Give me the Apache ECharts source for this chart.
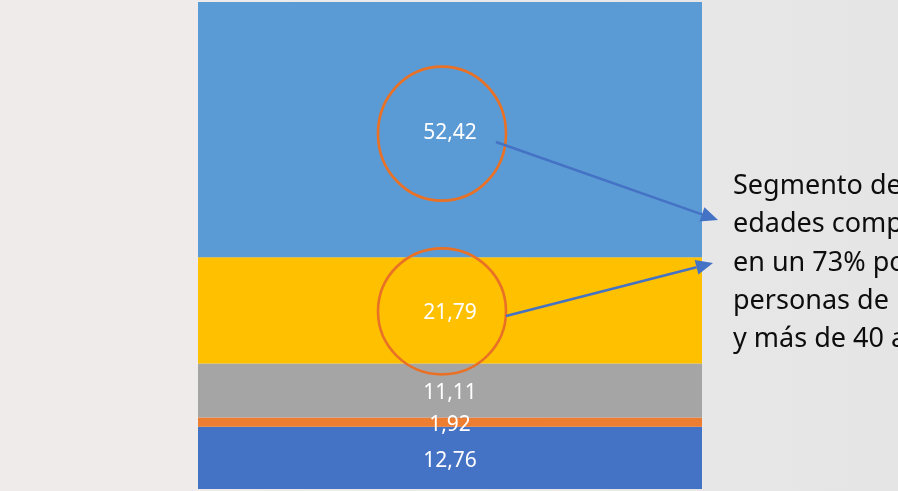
<!DOCTYPE html>
<html>
<head>
<meta charset="utf-8">
<script src="https://cdn.jsdelivr.net/npm/echarts@6/dist/echarts.min.js"></script>
<style>
html,body{margin:0;padding:0;}
#c{width:898px;height:491px;}
</style>
</head>
<body>
<div id="c"></div>
<script>
// Data (bottom to top)
const categories = ['Total'];
const seriesNames = ['S1', 'S2', 'S3', 'S4', 'S5'];
const seriesValues = [12.76, 1.92, 11.11, 21.79, 52.42];
const seriesColors = ['#4472C4', '#ED7D31', '#A5A5A5', '#FFC000', '#5B9BD5'];
const noteLines = ['Segmento de', 'edades comprendidas', 'en un 73% por', 'personas de', 'y más de 40 años'];

const chart = echarts.init(document.getElementById('c'));

const series = seriesValues.map((v, i) => ({
  name: seriesNames[i],
  type: 'bar',
  stack: 'total',
  barWidth: '100%',
  data: [v],
  itemStyle: { color: seriesColors[i] },
  label: {
    show: true,
    position: 'inside',
    offset: [0, 3],
    color: '#ffffff',
    fontFamily: 'Noto Sans',
    fontSize: 21,
    formatter: p => p.value.toFixed(2).replace('.', ',')
  },
  emphasis: { disabled: true }
}));

chart.setOption({
  animation: false,
  backgroundColor: {
    type: 'linear', x: 0, y: 0, x2: 1, y2: 0,
    colorStops: [
      { offset: 0, color: '#efebea' },
      { offset: 0.22, color: '#eeebea' },
      { offset: 0.8, color: '#e7e7e7' },
      { offset: 1, color: '#e5e5e5' }
    ]
  },
  grid: { left: 198, right: 196, top: 2, bottom: 2 },
  xAxis: { type: 'category', data: categories, show: false },
  yAxis: { type: 'value', min: 0, max: 100, show: false },
  series: series
});

// Annotations: circles around two labels, arrows to note text
function cumMid(idx) {
  let s = 0;
  for (let i = 0; i < idx; i++) s += seriesValues[i];
  return s + seriesValues[idx] / 2;
}
const pTop = chart.convertToPixel({ gridIndex: 0 }, [0, cumMid(4)]);
const pYel = chart.convertToPixel({ gridIndex: 0 }, [0, cumMid(3)]);
const cx = pTop[0] - 8;

function arrow(x1, y1, x2, y2) {
  const dx = x2 - x1, dy = y2 - y1;
  const len = Math.sqrt(dx * dx + dy * dy);
  const ux = dx / len, uy = dy / len;
  const hl = 17, hw = 7.5;
  const bx = x2 - ux * hl, by = y2 - uy * hl;
  return [
    { type: 'line', shape: { x1: x1, y1: y1, x2: bx, y2: by }, style: { stroke: '#4472C4', lineWidth: 2.5 }, z: 100 },
    { type: 'polygon', shape: { points: [[x2, y2], [bx - uy * hw, by + ux * hw], [bx + uy * hw, by - ux * hw]] }, style: { fill: '#4472C4' }, z: 100 }
  ];
}

chart.setOption({
  graphic: [
    { type: 'ellipse', shape: { cx: cx, cy: pTop[1] + 4, rx: 64, ry: 67 }, style: { fill: 'none', stroke: '#E97126', lineWidth: 2.6 }, z: 100 },
    { type: 'ellipse', shape: { cx: cx, cy: pYel[1] + 1, rx: 64, ry: 63 }, style: { fill: 'none', stroke: '#E97126', lineWidth: 2.6 }, z: 100 },
    ...arrow(496, 142, 718, 220),
    ...arrow(506, 316, 713, 263),
    { type: 'text', left: 733, top: 167, style: { text: noteLines.join('\n'), font: '27px "Noto Sans"', fill: '#0d0d0d', lineHeight: 38.4 }, z: 100 }
  ]
});
</script>
</body>
</html>
